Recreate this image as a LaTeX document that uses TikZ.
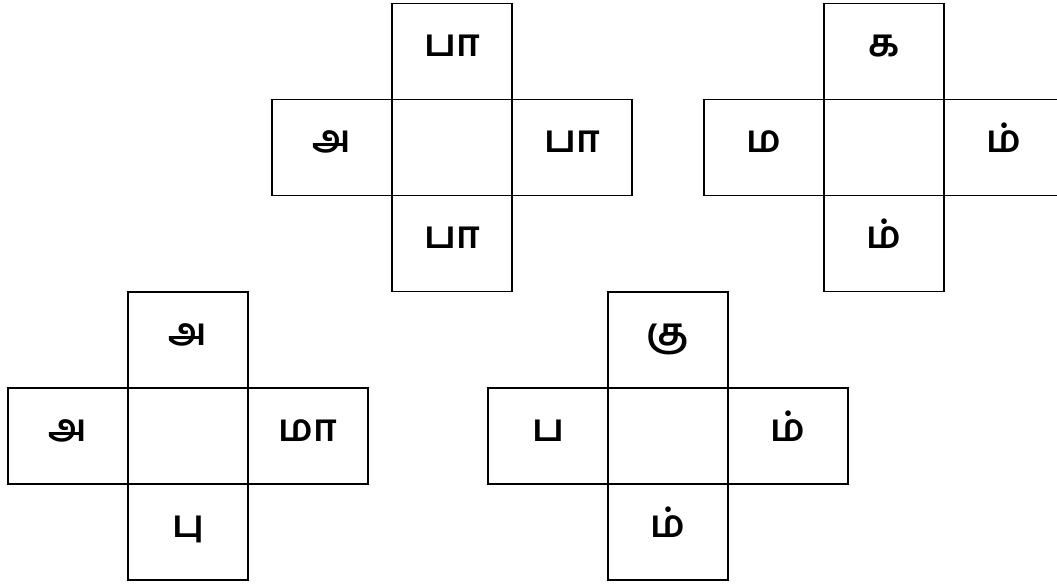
\documentclass[tikz,border=0pt]{standalone}
\usepackage{fontspec}
\usepackage{tikz}
\usetikzlibrary{positioning}
\newfontfamily\tamilfont[Script=Tamil]{Hind Madurai}

\tikzset{
  cell/.style={draw, line width=1.8pt, rectangle, outer sep=0pt, inner sep=0pt,
    minimum width=120pt, minimum height=96pt, text height=18pt, text depth=8pt,
    font=\tamilfont\bfseries\fontsize{38}{42}\selectfont}
}

\begin{document}
\begin{tikzpicture}[x=1pt, y=-1pt]
      \clip (0,0) rectangle (1057,585);
      % top left cross
      \node[cell] (c1) at (452,147.5) {};
      \node[cell, above=0pt of c1] (c1t) {பா};
      \node[cell, left=0pt of c1] (c1l) {அ};
      \node[cell, right=0pt of c1] (c1r) {பா};
      \node[cell, below=0pt of c1] (c1b) {பா};
      % top right cross
      \node[cell] (c2) at (884,147.5) {};
      \node[cell, above=0pt of c2] (c2t) {க};
      \node[cell, left=0pt of c2] (c2l) {ம};
      \node[cell, right=0pt of c2] (c2r) {ம்};
      \node[cell, below=0pt of c2] (c2b) {ம்};
      % bottom left cross
      \node[cell] (c3) at (188,436) {};
      \node[cell, above=0pt of c3] (c3t) {அ};
      \node[cell, left=0pt of c3] (c3l) {அ};
      \node[cell, right=0pt of c3] (c3r) {மா};
      \node[cell, below=0pt of c3] (c3b) {பு};
      % bottom right cross
      \node[cell] (c4) at (668,436) {};
      \node[cell, above=0pt of c4] (c4t) {கு};
      \node[cell, left=0pt of c4] (c4l) {ப};
      \node[cell, right=0pt of c4] (c4r) {ம்};
      \node[cell, below=0pt of c4] (c4b) {ம்};
    \end{tikzpicture}
\end{document}
